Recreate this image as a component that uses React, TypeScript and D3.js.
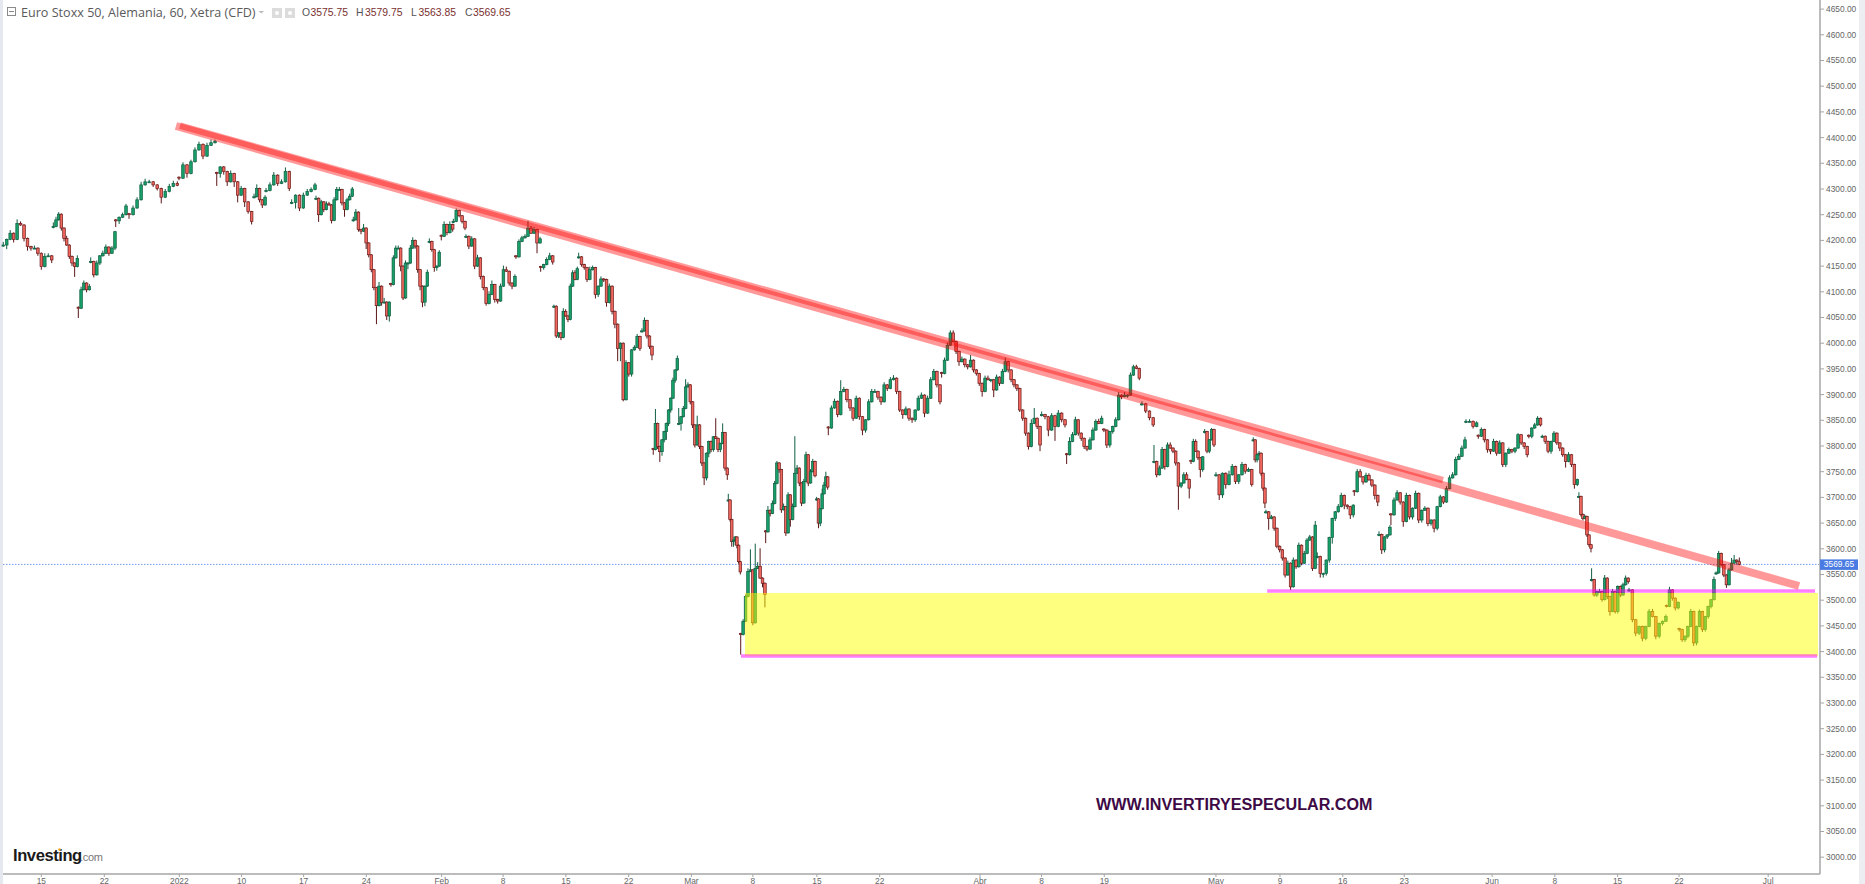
import React from "react";
import * as d3 from "d3";

// hourly candles, one leg per stretch between gaps
// leg = [first session, last session, closes, wick] (wick: + above body, - below body)
const closeA = [4191,4202,4214,4202,4233,4230,4204,4188,4185,4185,4175,4149,4169,4170,4162];
const wickA = [6,-8,6,-6,8,4,-6,-8,-5,5,-5,-6,6,5,-6];
const closeB = [4227,4240,4251,4224,4204,4191,4169,4156,4149,4165];
const wickB = [8,6,4,-5,-6,5,-5,-6,-20,6];
const closeC = [4068,4104,4117,4104,4110];
const wickC = [-19,6,5,-5,5];
const closeD = [4159,4133,4156,4170,4175,4187,4175,4185,4217];
const wickD = [8,-5,5,-4,5,5,-5,4,-4];
const closeE = [4238,4245,4250,4267];
const wickE = [-12,-6,4,4];
const closeF = [4250,4263,4279,4308,4314,4314,4308,4301,4284,4295,4305,4311,4307];
const wickF = [-8,5,5,6,6,4,-4,-4,-12,5,5,5,4];
const closeG = [4321,4347,4330,4353,4376,4387,4364,4385,4390,4393];
const wickG = [-4,5,-8,4,5,5,-6,5,6,3];
const closeH = [4330,4343,4334,4314,4330,4314,4288,4301,4275,4256,4237];
const wickH = [-24,-8,-6,-8,6,-10,-14,5,-10,-4,-6];
const closeI = [4285,4301,4279,4269,4284];
const wickI = [6,8,-5,-6,4];
const closeJ = [4297,4308,4327,4311,4314,4334,4301];
const wickJ = [5,5,6,-5,5,8,-5];
const closeK = [4274,4288,4263,4288,4295,4299,4308];
const wickK = [6,-12,-6,5,5,4,4];
const closeL = [4282,4250,4275,4260,4271,4269,4239,4279,4299,4299,4273,4260,4279,4286,4300];
const wickL = [5,-14,4,-5,5,4,-6,5,5,5,-5,-14,4,5,4];
const closeM = [4240,4255,4221,4218,4224,4195,4172,4143,4108,4073,4111,4079,4080,4053,4080];
const wickM = [6,6,-4,-6,8,-12,-5,-5,-5,-36,8,-6,8,-8,-11];
const closeN = [4114,4166,4185,4185,4150,4088,4156,4156,4185,4200,4189,4143,4111,4080,4111,4138];
const wickN = [-4,5,5,5,-10,-4,5,-12,6,6,-5,-6,-8,-10,-8,5];
const closeO = [4198,4182,4147,4150,4177];
const wickO = [6,-4,-8,-6,4];
const closeP = [4208,4231,4215,4231,4222];
const wickP = [-8,6,-5,6,-5];
const closeQ = [4237,4258,4248,4237,4224];
const wickQ = [5,4,-3,-4,-4];
const closeR = [4208,4189,4203,4150,4166,4130,4108,4077,4095,4114,4085,4082,4111,4143,4140,4117,4111,4130];
const wickR = [4,-6,5,-6,6,-6,-5,-4,6,8,-6,-5,5,8,6,-5,-6,4];
const closeS = [4168,4198,4205,4208,4224,4214,4221,4195,4203];
const wickS = [-4,4,4,4,14,4,5,-20,4];
const closeT = [4147,4153,4163,4170,4158];
const wickT = [-8,-4,4,6,-5];
const closeU = [4072,4014,4020,4011,4062,4053,4046,4111,4137,4124,4145];
const wickU = [3,-4,-4,-5,6,4,-5,5,5,5,4];
const closeV = [4168,4153,4147,4124,4143,4147,4095,4111,4125,4124,4079,4111,4062,4037,3990,4000,3890,3962,3940,3987,3992,4013,3990];
const wickV = [8,-4,-4,-5,6,4,-8,-5,5,-5,-8,5,-6,-8,-25,-25,-3,5,-5,-5,4,5,-5];
const closeW = [4024,4044,4014,3994,3977];
const wickW = [5,6,-5,-5,-10];
const closeX = [3793,3844,3799,3789,3812,3828,3844,3870,3893,3928,3948,3970];
const wickX = [-10,28,-5,-20,-8,-5,-16,-5,-5,5,-5,6];
const closeY = [3844,3857,3873,3915,3919,3886,3841,3802,3841,3799,3767,3738,3786,3809,3793,3818,3815,3793,3805,3826,3757,3744];
const wickY = [30,-14,5,15,5,-5,-6,-5,18,-5,-6,-14,-5,-8,-5,-4,36,-5,-5,18,-5,-10];
const closeZ = [3695,3657,3614,3617,3623,3607,3575,3555];
const wickZ = [12,-4,-10,-10,-10,-6,-4,-5];
const closeAA = [3433,3459,3507,3556,3559,3456,3562,3566,3543,3533,3511];
const wickAA = [-39,4,4,6,40,-5,48,8,35,-8,-25];
const closeAC = [3633,3675,3669,3688,3727,3767,3754,3676,3682,3631,3705,3657,3682,3747,3757,3728,3689,3731,3783,3728,3750,3770,3742];
const wickAC = [-22,8,-6,6,5,4,-6,-6,6,-6,5,-14,6,72,6,-6,-6,5,6,-6,5,5,-3];
const closeAD = [3697,3650,3678,3707,3724,3740,3720];
const wickAD = [4,-10,-6,10,6,10,-5];
const closeAE = [3835,3874,3887,3861,3906,3910,3890,3874,3854,3893,3857,3831,3851,3886,3906,3906,3895,3886,3919,3912,3929,3932,3906,3870,3861,3872,3854,3851,3870,3893,3899,3864,3893,3929,3945,3919,3886];
const wickAE = [-14,5,5,-5,22,5,-5,-6,-5,5,-6,-10,-5,5,5,5,-5,-6,5,-5,5,6,-5,-4,-8,5,-5,-6,-4,5,5,-8,5,5,5,-5,-5];
const closeAF = [3941,3967,3996,4020,4003,3984,3964,3969,3958,3954,3967,3948,3941,3922,3906,3932,3929,3929,3909,3934,3922,3945,3964,3948,3929,3919,3912,3870,3854,3825,3799,3844,3854,3838,3802];
const wickAF = [-8,5,5,5,5,-5,-8,5,-5,-5,10,-5,-4,-5,-10,5,5,-5,-14,5,-5,5,8,-5,-5,-5,-5,-4,-5,-5,-6,8,20,-5,-12];
const closeAG = [3861,3857,3831,3859,3838,3864,3851,3841];
const wickAG = [6,-5,-12,5,-28,6,-5,-5];
const closeAH = [3783,3809,3822,3851,3825,3815,3799,3794,3812,3831,3848,3844,3854];
const wickAH = [-18,8,5,6,-5,-5,-5,-4,5,5,4,5,5];
const closeAI = [3831,3802,3828,3838,3851,3899,3896,3899,3899,3938,3954,3951,3932];
const wickAI = [-4,-6,-5,-4,5,6,-5,6,-5,5,4,4,-4];
const closeAJ = [3882,3868,3855,3841];
const wickAJ = [5,-4,-5,-4];
const closeAK = [3770,3744,3757,3793,3760,3802,3796,3790,3767,3722,3728,3744,3735,3718];
const wickAK = [32,-5,5,5,-6,5,5,-4,-5,-46,-4,5,5,-20];
const closeAL = [3770,3809,3790,3777,3754,3779];
const wickAL = [-5,5,4,-4,-15,-4];
const closeAM = [3828,3790,3812,3832,3802];
const wickAM = [5,-4,-4,3,-4];
const closeAN = [3744,3705,3747,3725,3744,3760,3731,3744,3764,3751,3754,3725];
const wickAN = [5,-10,-6,-8,8,5,-5,-5,5,-5,4,-4];
const closeAO = [3812,3773,3783,3786,3747,3718,3689];
const wickAO = [5,-5,-5,4,-5,-5,-10];
const closeAP = [3672,3659,3662,3640,3605,3598,3582,3549,3572,3526,3578,3565,3607,3572,3591,3617,3623,3562,3646];
const wickAP = [4,-22,4,-5,-4,-5,-5,-5,5,-6,5,-4,5,-4,5,4,4,-5,8];
const closeAQ = [3585,3552,3552,3578,3622,3659,3672,3682,3704,3685,3682,3666,3685];
const wickAQ = [8,-8,-8,-4,-5,-12,-5,5,5,-8,-5,-8,-5];
const closeAR = [3711,3750,3740,3730,3743,3734,3724,3704,3691];
const wickAR = [-8,5,5,-5,5,4,-4,-8,-8];
const closeAS = [3628,3598,3623,3627,3642];
const wickAS = [6,-8,-5,-4,4];
const closeAT = [3666,3695,3709,3691,3653,3704,3662,3679,3708,3656,3675,3679,3649,3656,3640,3682,3701,3691,3717,3738,3744,3774,3780,3796,3812];
const wickAT = [-20,5,5,-5,-10,5,-5,-5,5,-6,-5,4,-5,-4,-8,-4,4,-4,5,5,5,5,5,5,6];
const closeAU = [3848,3848,3838,3845];
const wickAU = [4,4,-4,3];
const closeAU2 = [3819,3832,3812,3793,3790,3809,3786,3806,3764,3786,3793,3790,3796,3822,3806,3799,3783];
const wickAU2 = [-5,4,-5,-6,-6,5,-5,5,-5,-5,4,-4,-4,3,-4,-5,-5];
const closeAV = [3819,3835,3841,3854,3841];
const wickAV = [-4,-4,4,4,-3];
const closeAW = [3819,3809,3790,3809,3825,3806,3796,3783,3770,3783,3764,3725,3735];
const wickAW = [3,-5,-4,-5,4,-4,-6,-4,-12,5,-5,-8,-3];
const closeAX = [3702,3667,3659,3663,3627,3608,3601];
const wickAX = [8,-4,-4,3,-4,-4,-8];
const closeAY = [3540,3510,3517,3517,3501,3543,3507,3478,3517,3478,3527,3510,3530,3543,3536];
const wickAY = [22,-3,-4,5,-4,6,-5,-8,5,-4,-4,-4,4,5,-4];
const closeAZ = [3520,3462,3436,3449,3426,3449,3478,3468,3430,3455,3459,3468];
const wickAZ = [4,-5,-6,-4,-6,-4,5,5,-6,-4,-4,4];
const closeBA = [3488,3520,3504,3485,3496];
const wickBA = [-2,6,-5,-5,-3];
const closeBB = [3443,3423,3430,3449,3478,3417,3449,3478,3443,3468,3488,3501,3540];
const wickBB = [-4,-4,-4,-4,5,-6,-5,4,-5,-4,-4,-4,6];
const closeBC = [3553,3591,3569,3549,3530,3559,3572,3578,3575,3569.65];
const wickBC = [3,5,-3,-4,-6,4,10,10,-6,8];

const legs: [number, number, number[], number[]][] = [
  [-3.03,0.83,closeA,wickA],[0.96,2.87,closeB,wickB],[2.95,3.83,closeC,wickC],[3.94,5.87,closeD,wickD],
  [5.93,6.75,closeE,wickE],[6.99,10.84,closeF,wickF],[10.97,13.84,closeG,wickG],[13.98,16.76,closeH,wickH],
  [16.95,17.83,closeI,wickI],[17.91,19.76,closeJ,wickJ],[19.95,21.81,closeK,wickK],[21.89,24.78,closeL,wickL],
  [24.86,27.73,closeM,wickM],[27.86,30.76,closeN,wickN],[30.92,31.71,closeO,wickO],[31.87,32.78,closeP,wickP],
  [32.83,33.76,closeQ,wickQ],[33.84,37.74,closeR,wickR],[37.82,39.74,closeS,wickS],[39.79,40.75,closeT,wickT],
  [40.85,42.71,closeU,wickU],[42.82,47.7,closeV,wickV],[47.86,48.66,closeW,wickW],[48.76,50.68,closeX,wickX],
  [50.79,54.66,closeY,wickY],[54.74,55.7,closeZ,wickZ],[55.73,57.66,closeAA,wickAA],[57.72,61.65,closeAC,wickAC],
  [61.78,62.66,closeAD,wickAD],[62.71,71.61,closeAE,wickAE],[71.74,79.58,closeAF,wickAF],[79.71,81.57,closeAG,wickAG],
  [81.7,84.49,closeAH,wickAH],[84.67,87.49,closeAI,wickAI],[87.7,88.6,closeAJ,wickAJ],[88.66,91.47,closeAK,wickAK],
  [91.61,92.54,closeAL,wickAL],[92.7,93.44,closeAM,wickAM],[93.6,96.45,closeAN,wickAN],[96.57,97.5,closeAO,wickAO],
  [97.58,101.51,closeAP,wickAP],[101.67,104.54,closeAQ,wickAQ],[104.62,106.49,closeAR,wickAR],[106.59,107.46,closeAS,wickAS],
  [107.54,113.44,closeAT,wickAT],[113.52,114.37,closeAU,wickAU],[114.5,118.4,closeAU2,wickAU2],[118.53,119.46,closeAV,wickAV],
  [119.6,122.39,closeAW,wickAW],[122.52,123.48,closeAX,wickAX],[123.53,126.45,closeAY,wickAY],[126.51,129.45,closeAZ,wickAZ],
  [129.5,130.43,closeBA,wickBA],[130.51,133.28,closeBB,wickBB],[133.45,135.3,closeBC,wickBC],
];

const priceTicks = d3.range(3000, 4651, 50);
const dateLabels = ["15","22","2022","10","17","24","Feb","8","15","22","Mar","8","15","22","Abr","8","19","May","9","16","23","Jun","8","15","22","Jul"];
const dateSessions = [0,5.02,11,15.96,20.9,25.9,31.9,36.8,41.8,46.8,51.8,56.7,61.8,66.8,74.8,79.7,84.7,93.6,98.7,103.7,108.6,115.6,120.6,125.6,130.5,137.6];

const lastPrice = 3569.65;
const supportTop = 3518;
const supportBottom = 3391.5;
const zoneTop = 3514;
const trendLong = [[10.73, 4422.6], [140.06, 3527.6]];
const trendShort = [[11.05, 4423.5], [111.69, 3733.5]];
const ohlc = [["O","3575.75",302,310.5],["H","3579.75",356,365],["L","3563.85",411,418.5],["C","3569.65",465,473]];

const W = 1865, H = 884;
const axisX = 1820, axisY = 874;
const x = d3.scaleLinear().domain([0, 140]).range([41.3, 41.3 + 140 * 12.55]);
const y = d3.scaleLinear().domain([3000, 4650]).range([857.2, 9.1]);
const fmt = d3.format(".2f");
const sans = "'Liberation Sans', Arial, sans-serif";

const candles = legs.flatMap(([from, to, closes, wicks], l) => {
  const pos = d3.scaleLinear().domain([0, closes.length - 1]).range([from, to]);
  return closes.map((c, i) => {
    const o = i === 0 ? c + (wicks[i] > 0 ? -2 : 2) : closes[i - 1];
    const w = wicks[i] ?? 0;
    return {
      key: l + "-" + i, s: pos(i), o, c,
      hi: Math.max(o, c) + Math.max(w, 1.5),
      lo: Math.min(o, c) + Math.min(w, -1.5),
    };
  });
});

export default function App() {
  const yl = y(lastPrice);
  return (
    <svg width={W} height={H} style={{ position: "absolute", left: 0, top: 0, display: "block", background: "#fff" }}>
      <rect x={0} y={0} width={3} height={H} fill="#e6e8f0" />
      <rect x={1859} y={0} width={6} height={H} fill="#eceef2" />

      {/* last price line */}
      <line x1={3} x2={axisX} y1={yl} y2={yl} stroke="#6f9bf2" strokeWidth={1} strokeDasharray="1.5 1.5" />

      <g style={{ filter: "blur(0.3px)" }}>
        {candles.map((d) => {
          const up = d.c >= d.o;
          const top = y(Math.max(d.o, d.c));
          const h = Math.max(1, y(Math.min(d.o, d.c)) - top);
          const px = x(d.s);
          return (
            <g key={d.key}>
              <line x1={px} x2={px} y1={y(d.hi)} y2={y(d.lo)} stroke={up ? "#0f5f42" : "#5c1616"} strokeWidth={1} />
              <rect x={px - 1.3} y={top} width={2.6} height={h} fill={up ? "#17a06a" : "#f0675e"} stroke={up ? "#0f5f42" : "#6b1a1a"} strokeWidth={0.7} />
            </g>
          );
        })}
      </g>

      <rect x={x(56.07)} y={y(zoneTop)} width={x(141.57) - x(56.07)} height={y(supportBottom) - y(zoneTop)} fill="#ffff00" fillOpacity={0.5} />
      <line x1={x(97.68)} x2={x(141.33)} y1={y(supportTop)} y2={y(supportTop)} stroke="#ff00ff" strokeOpacity={0.5} strokeWidth={3.5} />
      <line x1={x(55.75)} x2={x(141.5)} y1={y(supportBottom)} y2={y(supportBottom)} stroke="#ff00ff" strokeOpacity={0.5} strokeWidth={3.5} />

      {[trendLong, trendShort].map((t, i) => (
        <line key={i} x1={x(t[0][0])} y1={y(t[0][1])} x2={x(t[1][0])} y2={y(t[1][1])}
          stroke="#ff0000" strokeOpacity={0.4} strokeWidth={i === 0 ? 8 : 6.5} />
      ))}

      {/* price axis */}
      <line x1={axisX} x2={axisX} y1={0} y2={axisY} stroke="#a6a6a6" strokeWidth={1.5} />
      {priceTicks.map((p) => (
        <g key={p} transform={`translate(${axisX},${y(p)})`}>
          <line x1={0} x2={4} stroke="#a6a6a6" />
          <text x={6} dy="0.35em" fontFamily={sans} fontSize={8.4} fill="#666">{fmt(p)}</text>
        </g>
      ))}
      <rect x={axisX} y={yl - 5} width={38} height={10.5} fill="#4a7be2" />
      <text x={axisX + 19} y={yl} dy="0.36em" textAnchor="middle" fontFamily={sans} fontSize={8.4} fill="#fff">{fmt(lastPrice)}</text>

      {/* time axis */}
      <line x1={3} x2={axisX} y1={axisY} y2={axisY} stroke="#a6a6a6" strokeWidth={1.5} />
      {dateLabels.map((t, i) => (
        <g key={i} transform={`translate(${x(dateSessions[i])},${axisY})`}>
          <line y1={0} y2={3} stroke="#a6a6a6" />
          <text y={10} textAnchor="middle" fontFamily={sans} fontSize={8.4} fill="#666">{t}</text>
        </g>
      ))}

      {/* legend */}
      <rect x={7.5} y={7.5} width={8} height={8} fill="none" stroke="#8a8a8a" />
      <line x1={9} x2={14} y1={11.5} y2={11.5} stroke="#8a8a8a" />
      <text x={21} y={16.5} fontFamily="'Open Sans', sans-serif" fontSize={12.6} fill="#5a5a5a">Euro Stoxx 50, Alemania, 60, Xetra (CFD)</text>
      <path d="M258.5 11 h5.5 l-2.75 2.5 z" fill="#bbb" />
      <rect x={272} y={8} width={10} height={10} fill="#dcdcdc" />
      <rect x={285} y={8} width={10} height={10} fill="#dcdcdc" />
      <circle cx={277} cy={13} r={2} fill="#fff" />
      <circle cx={290} cy={13} r={2} fill="#fff" />
      {ohlc.map(([k, v, kx, vx]) => (
        <g key={k as string} fontFamily={sans} fontSize={10.4}>
          <text x={kx as number} y={16} fill="#555">{k}</text>
          <text x={vx as number} y={16} fill="#7a2f2f">{v}</text>
        </g>
      ))}

      {/* logo + watermark */}
      <text x={13} y={861} fontFamily={sans} fontWeight={700} fontSize={16.6} letterSpacing={-0.45} fill="#1a1a1a">Investing</text>
      <circle cx={59.5} cy={849.5} r={1.3} fill="#f5a623" />
      <text x={80} y={861} fontFamily={sans} fontSize={11} letterSpacing={-0.3} fill="#777">.com</text>
      <text x={1096} y={810} fontFamily={sans} fontWeight={700} fontSize={16.15} fill="#3d0a45">WWW.INVERTIRYESPECULAR.COM</text>
    </svg>
  );
}
